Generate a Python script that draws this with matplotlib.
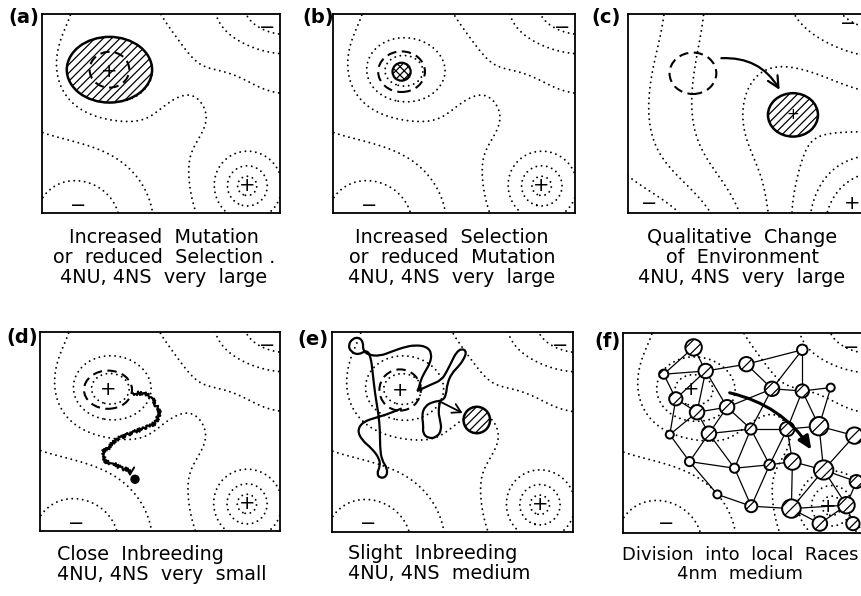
import numpy as np
import matplotlib
matplotlib.use("Agg")
import matplotlib.pyplot as plt
from matplotlib.patches import Ellipse, Circle, FancyArrowPatch, PathPatch
from matplotlib.path import Path

# ---------------- data ----------------
# adaptive landscape (panels a, b, d, e, f): hills (+) and pits (-)
hill_x = [34, 103.4, 103.4, 124, 18, -20, 68, 95]
hill_y = [71, 13.6, 13.6, 104, -6, 65, 48, 68]
hill_h = [2.5, 1.2, 2.2, -3.0, -2.8, -1.2, -0.3, 0.12]
hill_sx = [15.6, 6, 13, 26, 28, 25, 10, 11]
hill_sy = [12.5, 6, 13, 17, 28, 25, 10, 11]
levels = [-2.1, -1.1, -0.1, 0.9, 1.9, 2.9]

# changed landscape (panel c)
c_hill_x = [-30, 0, 20, 82, 126, 126]
c_hill_y = [50, 110, -20, 49, -8, 108]
c_hill_h = [-3.2, -0.6, -2.5, 0.7, 5.5, -2.6]
c_hill_sx = [40, 25, 28, 20, 26, 32]
c_hill_sy = [1000, 25, 25, 20, 26, 22]
c_levels = [-3, -2, -1, 0, 1, 2, 3]

plus_xy = [(34, 71), (103.4, 13.6)]
minus_xy = [(113.5, 93), (18, 4)]
c_plus_xy = [(111, 5)]
c_minus_xy = [(10.7, 5), (109, 95)]

captions = [
    "Increased  Mutation\nor  reduced  Selection .\n4NU, 4NS  very  large",
    "Increased  Selection\nor  reduced  Mutation\n4NU, 4NS  very  large",
    "Qualitative  Change\nof  Environment\n4NU, 4NS  very  large",
    "Close  Inbreeding\n4NU, 4NS  very  small",
    "Slight  Inbreeding\n4NU, 4NS  medium",
    "Division  into  local  Races\n4nm  medium",
]
labels = ["(a)", "(b)", "(c)", "(d)", "(e)", "(f)"]

# panel (e): random drift path
e_path_x = [34.7, 28.9, 22.3, 15.6, 12.6, 14.8, 19.8, 23.6, 23.9, 22.3, 23.9, 27.2, 27.6, 24.7,
            23.9, 23.9, 23.1, 21.4, 20.3, 19.3, 17.3, 13.1, 9.3, 8.1, 10.3, 13.6, 15.6, 15.3,
            18.1, 23.9, 29.7, 35.5, 41.3, 47.2, 49.7, 48.8, 46.3, 44.2, 43.0, 41.8, 48.8, 54.6,
            57.1, 59.6, 61.8, 64.6, 67.1, 65.4, 62.9, 59.6, 57.4, 56.8, 55.1, 50.5, 46.3, 44.7,
            45.5, 45.2, 48.0, 52.1, 54.6, 53.8, 52.9, 53.8]
e_path_y = [61.8, 59.3, 57.3, 55.2, 51.0, 46.0, 41.8, 36.8, 32.7, 29.3, 26.8, 27.7, 31.8, 36.0,
            42.7, 51.0, 59.3, 69.3, 79.3, 87.7, 91.0, 88.5, 90.2, 93.5, 96.8, 97.3, 94.7, 91.0,
            88.5, 88.0, 90.2, 92.3, 93.5, 92.7, 89.3, 84.3, 80.2, 76.0, 71.0, 70.2, 73.5, 76.0,
            80.2, 85.2, 89.7, 91.8, 90.2, 86.0, 82.7, 79.3, 74.3, 68.5, 65.7, 65.2, 63.0, 58.5,
            53.5, 49.3, 46.8, 47.3, 51.0, 56.0, 60.2, 65.2]

# panel (d): inbreeding path
d_path_x = [46.5, 51.7, 55.8, 58.3, 60.0, 57.5, 50.0, 43.3, 37.5, 35.0, 31.7, 32.5, 36.7, 40.8, 45.0, 45.0]
d_path_y = [69.2, 69.2, 67.5, 62.5, 59.1, 54.1, 50.8, 48.2, 45.7, 42.4, 39.9, 34.8, 34.0, 31.5, 30.7, 29.0]

# panel (f): local races (x, y, radius, hatched)
race_x = [35.0, 20.2, 41.0, 61.2, 88.9, 73.9, 88.9, 103.0, 26.2, 36.7, 51.6, 23.2, 42.6, 63.4, 81.4,
          97.2, 114.8, 33.0, 55.3, 72.7, 84.0, 99.5, 115.7, 46.8, 63.6, 83.5, 97.6, 110.8, 114.0]
race_y = [92.8, 79.4, 81.0, 84.4, 91.6, 72.1, 71.0, 72.7, 67.1, 60.4, 62.9, 49.2, 49.7, 52.0, 52.0,
          53.4, 48.7, 35.7, 32.4, 34.1, 35.7, 31.5, 25.7, 19.3, 13.4, 12.2, 4.7, 13.9, 4.7]
race_r = [4.1, 2.3, 3.6, 3.6, 2.6, 3.6, 3.3, 2.0, 3.3, 3.6, 3.6, 2.0, 3.6, 2.8, 3.6,
          4.6, 4.1, 2.3, 2.3, 2.6, 4.1, 4.8, 3.3, 2.0, 3.0, 4.6, 3.6, 4.1, 3.3]
race_hatched = [1, 1, 1, 1, 0, 1, 1, 0, 1, 1, 1, 0, 1, 1, 1,
                1, 1, 0, 0, 1, 1, 1, 1, 0, 1, 1, 1, 1, 1]
race_links = [(1, 2), (1, 3), (2, 3), (2, 9), (3, 4), (3, 10), (3, 11), (4, 5), (4, 6), (5, 6),
              (5, 7), (6, 7), (6, 11), (7, 8), (7, 15), (8, 16), (9, 10), (9, 12), (9, 3),
              (10, 11), (10, 12), (10, 13), (11, 13), (11, 14), (12, 18), (13, 14), (13, 18),
              (13, 19), (14, 15), (14, 19), (14, 20), (15, 16), (15, 21), (15, 20), (16, 17),
              (16, 22), (16, 7), (18, 19), (18, 24), (19, 20), (19, 25), (20, 21), (20, 25),
              (21, 22), (21, 26), (22, 17), (22, 23), (22, 26), (22, 28), (24, 25), (25, 26),
              (26, 27), (26, 28), (27, 28), (28, 29), (28, 23), (6, 14)]

# ---------------- layout ----------------
W, H = 861, 596
fig = plt.figure(figsize=(W / 100, H / 100), dpi=100)
plt.rcParams["hatch.linewidth"] = 0.9
box_left = [42, 333, 628, 40, 332, 623]
box_top = [14, 14, 14, 332, 332, 333]
box_w = [238, 242, 242, 240, 241, 242]
box_h = [199, 199, 199, 199, 200, 200]
cap_x = [164, 452, 742, 57, 348, 740]
cap_y = [228, 228, 228, 545, 544, 546]
cap_ha = ["center", "center", "center", "left", "left", "center"]
cap_fs = [13.8, 13.8, 13.8, 13.8, 13.8, 13]
lab_x = [24, 318, 606, 22, 313, 607]
lab_y = [17, 17, 17, 338, 339, 341]

gx = np.linspace(-2, 122, 250)
gy = np.linspace(-2, 102, 210)
GX, GY = np.meshgrid(gx, gy)


def surface(px, py, ph, sx, sy):
    Z = np.zeros_like(GX)
    for x0, y0, h, a, b in zip(px, py, ph, sx, sy):
        Z = Z + h * np.exp(-((GX - x0) ** 2 / (2 * a ** 2) + (GY - y0) ** 2 / (2 * b ** 2)))
    return Z


Z_main = surface(hill_x, hill_y, hill_h, hill_sx, hill_sy)
Z_c = surface(c_hill_x, c_hill_y, c_hill_h, c_hill_sx, c_hill_sy)

DOT = (0, (0.01, 2.7))
DASH = (0, (4.5, 2.6))


def make_ax(i):
    ax = fig.add_axes([box_left[i] / W, 1 - (box_top[i] + box_h[i]) / H,
                       box_w[i] / W, box_h[i] / H])
    ax.set_xlim(0, 120)
    ax.set_ylim(0, 100)
    ax.set_xticks([])
    ax.set_yticks([])
    for sp in ax.spines.values():
        sp.set_linewidth(1.3)
    fig.text(cap_x[i] / W, 1 - cap_y[i] / H, captions[i],
             ha=cap_ha[i], va="top", fontsize=cap_fs[i], linespacing=1.08,
             family="DejaVu Sans",
             multialignment="center" if cap_ha[i] == "center" else "left")
    fig.text(lab_x[i] / W, 1 - lab_y[i] / H, labels[i], ha="center", va="center",
             fontsize=14, fontweight="bold", family="DejaVu Sans")
    return ax


def landscape(ax, Z, lev, plus, minus):
    cs = ax.contour(GX, GY, Z, levels=lev, colors="k", linewidths=1.4, linestyles=[DOT])
    cs.set_capstyle("round")
    for (x, y) in plus:
        ax.text(x, y, "+", ha="center", va="center", fontsize=14, zorder=6)
    for (x, y) in minus:
        ax.text(x, y, "\u2212", ha="center", va="center", fontsize=14, zorder=6)


def dashed(ax, x, y, rx=12, ry=10):
    ax.add_patch(Ellipse((x, y), 2 * rx, 2 * ry, fill=False, ec="k", lw=1.5,
                         linestyle=DASH, zorder=5))


def smooth_path(xs, ys):
    pts = list(zip(xs, ys))
    verts = [pts[0]]
    codes = [Path.MOVETO]
    for i in range(1, len(pts) - 1):
        mid = ((pts[i][0] + pts[i + 1][0]) / 2, (pts[i][1] + pts[i + 1][1]) / 2)
        verts += [pts[i], mid]
        codes += [Path.CURVE3, Path.CURVE3]
    verts.append(pts[-1])
    codes.append(Path.LINETO)
    return Path(verts, codes)


def arrow(ax, p0, p1, rad=0.0, style="->", hl=6, hw=3.5, lw=1.4):
    ax.add_patch(FancyArrowPatch(p0, p1, connectionstyle="arc3,rad=%g" % rad,
                                 arrowstyle="%s,head_length=%g,head_width=%g" % (style, hl, hw),
                                 lw=lw, color="k", mutation_scale=1, zorder=7,
                                 shrinkA=0, shrinkB=0))


# (a)
ax = make_ax(0)
landscape(ax, Z_main, levels, plus_xy, minus_xy)
ax.add_patch(Ellipse((34, 72), 43, 33, facecolor="white", ec="k", lw=1.8,
                     hatch="////", zorder=4))
dashed(ax, 34, 72, 10, 9)

# (b)
ax = make_ax(1)
landscape(ax, Z_main, levels, plus_xy[1:], minus_xy)
dashed(ax, 34, 71, 11.6, 10.2)
ax.add_patch(Ellipse((34, 71), 9, 9, facecolor="white", ec="k", lw=1.6,
                     hatch="xxxx", zorder=4))

# (c)
ax = make_ax(2)
landscape(ax, Z_c, c_levels, c_plus_xy, c_minus_xy)
dashed(ax, 32.2, 70.2, 11.6, 10.4)
ax.add_patch(Ellipse((81.8, 49.3), 24.8, 21.8, facecolor="white", ec="k", lw=1.8,
                     hatch="////", zorder=4))
ax.text(81.8, 49.3, "+", ha="center", va="center", fontsize=11, zorder=6)
arrow(ax, (46.3, 77.8), (75.2, 61.9), rad=-0.3, hl=8, hw=4, lw=1.6)

# (d)
ax = make_ax(3)
landscape(ax, Z_main, levels, plus_xy, minus_xy)
dashed(ax, 34, 71, 12, 9.6)
ln, = ax.plot(d_path_x[:-1], d_path_y[:-1], color="k", lw=1.5, zorder=6)
ln.set_sketch_params(scale=1.8, length=2.5, randomness=2)
arrow(ax, (d_path_x[-2], d_path_y[-2]), (d_path_x[-1], d_path_y[-1] - 1.5), hl=5, hw=3, lw=1.4)
ax.add_patch(Circle((47.5, 26.0), 2.0, color="k", zorder=6))

# (e)
ax = make_ax(4)
landscape(ax, Z_main, levels, plus_xy, minus_xy)
dashed(ax, 33.9, 71, 10.3, 10.3)
ax.add_patch(PathPatch(smooth_path(e_path_x, e_path_y), fill=False, ec="k", lw=1.6, zorder=6))
arrow(ax, (53.8, 65.2), (65.0, 59.5), hl=6, hw=3.5, lw=1.3)
ax.add_patch(Circle((72.1, 56.0), 6.6, facecolor="white", ec="k", lw=1.8,
                    hatch="////", zorder=5))

# (f)
ax = make_ax(5)
landscape(ax, Z_main, levels, [(33.8, 71.5), (101.6, 13.1)], [(113, 92.8), (21.5, 5)])
for a, b in race_links:
    ax.plot([race_x[a - 1], race_x[b - 1]], [race_y[a - 1], race_y[b - 1]],
            color="k", lw=0.9, zorder=4)
for x, y, r, h in zip(race_x, race_y, race_r, race_hatched):
    ax.add_patch(Circle((x, y), r, facecolor="white", ec="k", lw=1.4,
                        hatch="///" if h else None, zorder=5))
arrow(ax, (52.9, 70.1), (93.4, 41.6), rad=-0.2, style="-|>", hl=8, hw=3.5, lw=2.2)

fig.savefig("out.png", dpi=100)
